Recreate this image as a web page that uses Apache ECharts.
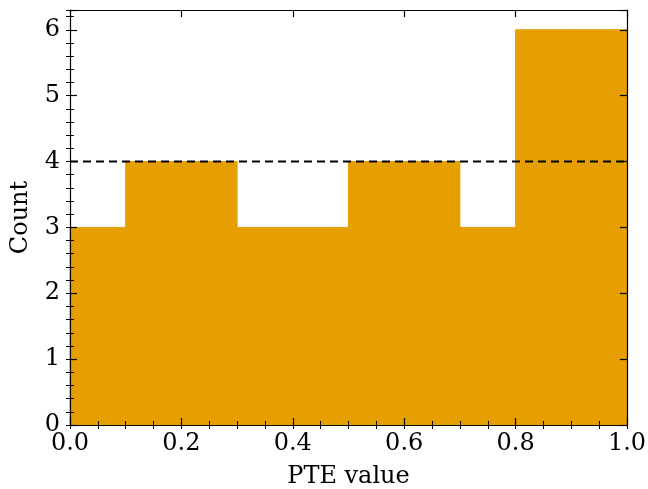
<!DOCTYPE html>
<html>
<head>
<meta charset="utf-8">
<script src="https://cdn.jsdelivr.net/npm/echarts@6/dist/echarts.min.js"></script>
<style>
  html, body { margin: 0; padding: 0; background: #fff; }
  #chart { width: 648px; height: 489px; }
</style>
</head>
<body>
<div id="chart"></div>
<script>
// histogram bins (left edge, right edge) and counts
const binEdges = [0.0, 0.1, 0.2, 0.3, 0.4, 0.5, 0.6, 0.7, 0.8, 0.9, 1.0];
const counts = [3, 4, 4, 3, 3, 4, 4, 3, 6, 6];
const expectedCount = 4;
const xTickLabels = ['0.0', '0.2', '0.4', '0.6', '0.8', '1.0'];

const FONT = 'DejaVu Serif';
const FS = 24;
const chart = echarts.init(document.getElementById('chart'));

const histData = counts.map((c, i) => [binEdges[i], binEdges[i + 1], c]);

function axisBase(extra) {
    return Object.assign({
        z: 10,
        splitLine: { show: false },
        axisLine: { show: true, onZero: false, lineStyle: { color: '#000', width: 1.2 } },
        axisTick: { show: true, inside: true, length: 7, lineStyle: { color: '#000', width: 1.2 } },
        axisLabel: { show: false }
    }, extra);
}

// minor tick axes: ticks only
const minorTick = { show: true, inside: true, length: 4, lineStyle: { color: '#000', width: 1 } };

const option = {
    animation: false,
    backgroundColor: '#fff',
    grid: { left: 70, right: 21, top: 10, bottom: 64, outerBoundsMode: 'none', containLabel: false },
    xAxis: [
        axisBase({
            type: 'value', position: 'bottom', min: 0, max: 1, interval: 0.2,
            name: 'PTE value', nameLocation: 'middle', nameGap: 40,
            nameTextStyle: { fontFamily: FONT, fontSize: FS, color: '#000' },
            axisLabel: {
                show: true, margin: 7, fontFamily: FONT, fontSize: FS, color: '#000',
                formatter: v => xTickLabels[Math.round(v / 0.2)] || ''
            }
        }),
        axisBase({ type: 'value', position: 'bottom', min: 0, max: 1, interval: 0.05,
            axisLine: { show: false }, axisTick: minorTick }),
        axisBase({ type: 'value', position: 'top', min: 0, max: 1, interval: 0.2 }),
        axisBase({ type: 'value', position: 'top', min: 0, max: 1, interval: 0.05,
            axisLine: { show: false }, axisTick: minorTick })
    ],
    yAxis: [
        axisBase({
            type: 'value', position: 'left', min: 0, max: 6.3, interval: 1,
            name: 'Count', nameLocation: 'middle', nameGap: 37, nameRotate: 90,
            nameTextStyle: { fontFamily: FONT, fontSize: FS, color: '#000' },
            axisLabel: {
                show: true, margin: 10, fontFamily: FONT, fontSize: FS, color: '#000',
                formatter: v => (Math.abs(v - Math.round(v)) < 1e-6 ? String(Math.round(v)) : '')
            }
        }),
        axisBase({ type: 'value', position: 'left', min: 0, max: 6.3, interval: 0.2,
            axisLine: { show: false }, axisTick: minorTick }),
        axisBase({ type: 'value', position: 'right', min: 0, max: 6.3, interval: 1 }),
        axisBase({ type: 'value', position: 'right', min: 0, max: 6.3, interval: 0.2,
            axisLine: { show: false }, axisTick: minorTick })
    ],
    series: [
        {
            type: 'custom',
            z: 1,
            xAxisIndex: 0,
            yAxisIndex: 0,
            data: histData,
            encode: { x: [0, 1], y: 2 },
            renderItem: function (params, api) {
                const p0 = api.coord([api.value(0), api.value(2)]);
                const p1 = api.coord([api.value(1), 0]);
                return {
                    type: 'rect',
                    shape: { x: p0[0], y: p0[1], width: p1[0] - p0[0], height: p1[1] - p0[1] },
                    style: { fill: '#E69F00', stroke: '#E69F00', lineWidth: 1 }
                };
            }
        },
        {
            type: 'line',
            z: 3,
            xAxisIndex: 0,
            yAxisIndex: 0,
            data: [[0, expectedCount], [1, expectedCount]],
            symbol: 'none',
            lineStyle: { color: '#000', width: 2, type: [8, 5] }
        }
    ]
};

chart.setOption(option);
</script>
</body>
</html>
